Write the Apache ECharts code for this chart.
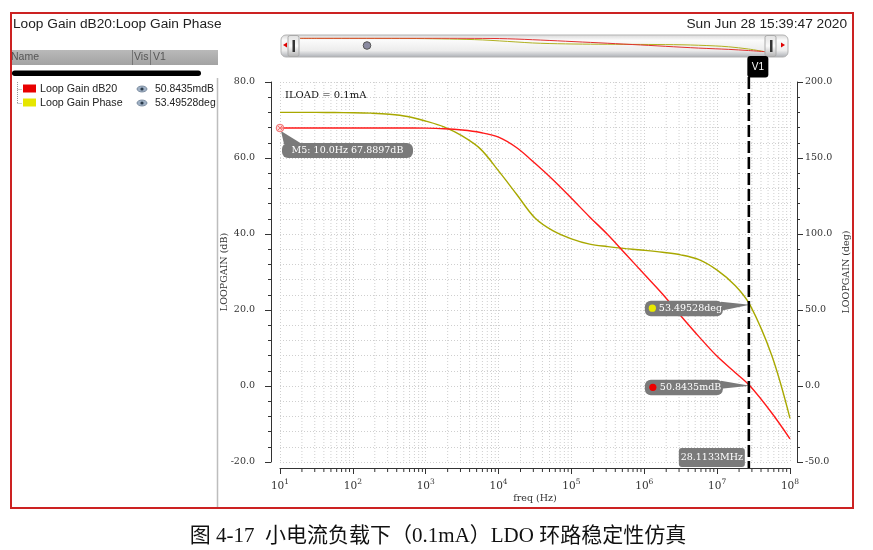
<!DOCTYPE html>
<html><head><meta charset="utf-8">
<script src="https://cdn.jsdelivr.net/npm/echarts@6/dist/echarts.min.js"></script>
<style>html,body{margin:0;padding:0;background:#fff}#c{width:873px;height:550px}</style>
</head><body><div id="c"></div>
<script>
// ---- data ----
const freqHz = [10, 17.78, 31.62, 56.23, 100, 177.8, 316.2, 562.3, 1000, 1778, 3162, 5623, 1e4, 1.778e4, 3.162e4, 5.623e4, 1e5, 1.778e5, 3.162e5, 5.623e5, 1e6, 1.778e6, 3.162e6, 5.623e6, 1e7, 1.778e7, 2.81133e7, 5.623e7, 1e8];
const gainDb = [67.8897, 67.8897, 67.8897, 67.8895, 67.889, 67.889, 67.888, 67.88, 67.85, 67.7, 67.35, 66.7, 65.5, 62.7, 58.6, 54.2, 49.4, 44.5, 39.8, 34.6, 29.4, 24.2, 18.5, 13.0, 7.8, 3.5, 0.0508435, -7.1, -13.9];
const phaseDeg = [180, 180, 180, 179.9, 179.8, 179.5, 178.8, 177.3, 174.3, 170.5, 164.5, 156, 141.5, 126, 110.5, 102, 96.8, 93.3, 91.7, 90.4, 89.3, 88, 86.3, 83.1, 76.2, 66, 53.49528, 20, -21.3];
const gainTicks = [-20, 0, 20, 40, 60, 80];
const phaseTicks = [-50, 0, 50, 100, 150, 200];
const markerM5 = {freq: 10, gain: 67.8897, text: 'M5: 10.0Hz 67.8897dB'};
const cursor = {freq: 2.81133e7, gain: 0.0508435, phase: 53.49528, freqText: '28.1133MHz', gainText: '50.8435mdB', phaseText: '53.49528deg', name: 'V1'};
const seriesNames = ['Loop Gain dB20', 'Loop Gain Phase'];
const titleText = 'Loop Gain dB20:Loop Gain Phase';
const dateText = 'Sun Jun 28 15:39:47 2020';
const annotText = 'ILOAD = 0.1mA';
const captionText = '图 4-17  小电流负载下（0.1mA）LDO 环路稳定性仿真';

// minor tick positions (2..9 within each decade)
const minorTickFreqs = [];
for (let e = 1; e < 8; e++) for (let m = 2; m <= 9; m++) minorTickFreqs.push([m * Math.pow(10, e), -20]);

const RED = '#ff1a1a', OLIVE = '#a8a800';
const SERIF = 'DejaVu Serif';
const SANS = 'Liberation Sans';
const gridLine = {color: '#cfcfcf', type: [1, 2], width: 1};
const axisCol = '#333';

const gainSeries = freqHz.map((f, i) => [f, gainDb[i]]);
const phaseSeries = freqHz.map((f, i) => [f, phaseDeg[i]]);

const chart = echarts.init(document.getElementById('c'));
const option = {
  animation: false,
  backgroundColor: '#fff',
  grid: [
    {left: 280, right: 83, top: 82, bottom: 88},
    {left: 300, width: 465, top: 38, height: 14}
  ],
  xAxis: [
    {type: 'log', logBase: 10, min: 10, max: 1e8, gridIndex: 0, offset: 6,
     axisLine: {show: true, onZero: false, lineStyle: {color: axisCol}},
     axisTick: {show: true, length: 6, lineStyle: {color: axisCol}},
     splitLine: {show: true, lineStyle: gridLine},
     axisLabel: {margin: 10, color: axisCol,
       formatter: v => '{b|10}{s|' + Math.round(Math.log10(v)) + '}',
       rich: {b: {fontFamily: SERIF, fontSize: 10.5, color: axisCol, verticalAlign: 'bottom'},
              s: {fontFamily: SERIF, fontSize: 7.5, color: axisCol, verticalAlign: 'bottom', padding: [0, 0, 6, 0]}}},
     name: 'freq (Hz)', nameLocation: 'middle', nameGap: 26, nameMoveOverlap: false,
     nameTextStyle: {fontFamily: SERIF, fontSize: 9.5, color: axisCol}},
    {type: 'log', logBase: 10, min: 10, max: 1e8, gridIndex: 1, show: false}
  ],
  yAxis: [
    {type: 'value', min: gainTicks[0], max: gainTicks[gainTicks.length - 1], interval: 20, gridIndex: 0, offset: 9,
     axisLine: {show: true, onZero: false, lineStyle: {color: axisCol}},
     axisTick: {show: true, length: 6, lineStyle: {color: axisCol}},
     minorTick: {show: true, splitNumber: 5, length: 3, lineStyle: {color: axisCol}},
     splitLine: {show: true, lineStyle: gridLine},
     minorSplitLine: {show: true, lineStyle: gridLine},
     axisLabel: {margin: 16, color: axisCol, fontFamily: SERIF, fontSize: 9.5, formatter: v => v.toFixed(1)},
     name: 'LOOPGAIN (dB)', nameLocation: 'middle', nameGap: 41, nameRotate: 90, nameMoveOverlap: false,
     nameTextStyle: {fontFamily: SERIF, fontSize: 9.5, color: axisCol}},
    {type: 'value', min: phaseTicks[0], max: phaseTicks[phaseTicks.length - 1], interval: 50, gridIndex: 0, offset: 7, position: 'right',
     axisLine: {show: true, onZero: false, lineStyle: {color: axisCol}},
     axisTick: {show: true, length: 6, lineStyle: {color: axisCol}},
     minorTick: {show: true, splitNumber: 5, length: 3, lineStyle: {color: axisCol}},
     splitLine: {show: false},
     axisLabel: {margin: 8, color: axisCol, fontFamily: SERIF, fontSize: 9.5, formatter: v => v.toFixed(1)},
     name: 'LOOPGAIN (deg)', nameLocation: 'middle', nameGap: 45, nameRotate: 90, nameMoveOverlap: false,
     nameTextStyle: {fontFamily: SERIF, fontSize: 9.5, color: axisCol}},
    {type: 'value', min: -16, max: 69, gridIndex: 1, show: false},
    {type: 'value', min: -25, max: 185, gridIndex: 1, show: false}
  ],
  series: [
    {type: 'custom', xAxisIndex: 0, yAxisIndex: 0, data: minorTickFreqs, silent: true, z: 1, clip: false,
     encode: {x: 0, y: 1},
     renderItem: (params, api) => {
       const f = api.value(0);
       const b = api.coord([f, gainTicks[0]]);
       const t = api.coord([f, gainTicks[gainTicks.length - 1]]);
       return {type: 'group', children: [
         {type: 'line', shape: {x1: b[0], y1: t[1], x2: b[0], y2: b[1]}, style: {stroke: '#cfcfcf', lineWidth: 1, lineDash: [1, 2]}},
         {type: 'line', shape: {x1: b[0], y1: b[1] + 6, x2: b[0], y2: b[1] + 10}, style: {stroke: axisCol, lineWidth: 1}}
       ]};
     }},
    {name: seriesNames[0], type: 'line', xAxisIndex: 0, yAxisIndex: 0, data: gainSeries, smooth: 0.35, showSymbol: false,
     lineStyle: {color: RED, width: 1.4}, itemStyle: {color: RED}, z: 5},
    {name: seriesNames[1], type: 'line', xAxisIndex: 0, yAxisIndex: 1, data: phaseSeries, smooth: 0.35, showSymbol: false,
     lineStyle: {color: OLIVE, width: 1.4}, itemStyle: {color: OLIVE}, z: 4},
    {type: 'line', xAxisIndex: 1, yAxisIndex: 2, data: gainSeries, smooth: 0.35, showSymbol: false, silent: true,
     lineStyle: {color: '#e03030', width: 1}, z: 20},
    {type: 'line', xAxisIndex: 1, yAxisIndex: 3, data: phaseSeries, smooth: 0.35, showSymbol: false, silent: true,
     lineStyle: {color: '#b0b020', width: 1}, z: 19}
  ]
};
chart.setOption(option);

// ---- annotations anchored through the library's coordinate conversion ----
const toPx = (si, x, y) => chart.convertToPixel({seriesIndex: si}, [x, y]);
const pM5 = toPx(1, markerM5.freq, markerM5.gain);
const pG = toPx(1, cursor.freq, cursor.gain);
const pP = toPx(2, cursor.freq, cursor.phase);
const pTop = toPx(1, cursor.freq, gainTicks[gainTicks.length - 1]);
const pBot = toPx(1, cursor.freq, gainTicks[0]);
const GRAY = '#7a7a7a';
const lblFont = {fontFamily: SERIF, fontSize: 9.5, fill: '#fff'};

function eye(x, y) {
  return [
    {type: 'ellipse', shape: {cx: x, cy: y, rx: 5, ry: 3}, style: {fill: '#9fb0c4', stroke: '#6d7f94', lineWidth: 0.8}},
    {type: 'circle', shape: {cx: x, cy: y, r: 1.6}, style: {fill: '#2a3a4a'}}
  ];
}

const g = [
  // frame
  {type: 'rect', shape: {x: 11, y: 13, width: 842, height: 495}, style: {fill: 'none', stroke: '#cc2222', lineWidth: 2}, z: 50},
  {type: 'text', x: 13, y: 24, style: {text: titleText, fontFamily: SANS, fontSize: 13.7, fill: '#222', textVerticalAlign: 'middle'}},
  {type: 'text', x: 847, y: 24, style: {text: dateText, fontFamily: SANS, fontSize: 13.7, fill: '#222', textAlign: 'right', textVerticalAlign: 'middle'}},
  // left panel
  {type: 'rect', shape: {x: 12, y: 50, width: 206, height: 15},
   style: {fill: new echarts.graphic.LinearGradient(0, 0, 0, 1, [{offset: 0, color: '#b9b9b9'}, {offset: 1, color: '#a3a3a3'}])}},
  {type: 'line', shape: {x1: 132.5, y1: 50, x2: 132.5, y2: 65}, style: {stroke: '#777', lineWidth: 1}},
  {type: 'line', shape: {x1: 150.5, y1: 50, x2: 150.5, y2: 65}, style: {stroke: '#777', lineWidth: 1}},
  {type: 'text', x: 11, y: 57.5, style: {text: 'Name', fontFamily: SANS, fontSize: 10.5, fill: '#555', textVerticalAlign: 'middle'}},
  {type: 'text', x: 134, y: 57.5, style: {text: 'Vis', fontFamily: SANS, fontSize: 10.5, fill: '#555', textVerticalAlign: 'middle'}},
  {type: 'text', x: 153, y: 57.5, style: {text: 'V1', fontFamily: SANS, fontSize: 10.5, fill: '#555', textVerticalAlign: 'middle'}},
  {type: 'rect', shape: {x: 12, y: 70.5, width: 189, height: 5.5, r: 2.7}, style: {fill: '#000'}},
  {type: 'line', shape: {x1: 217.5, y1: 78, x2: 217.5, y2: 507}, style: {stroke: '#bdbdbd', lineWidth: 1.5}},
  {type: 'line', shape: {x1: 17.5, y1: 82, x2: 17.5, y2: 103}, style: {stroke: '#999', lineWidth: 1, lineDash: [1, 1]}},
  {type: 'line', shape: {x1: 17.5, y1: 89.5, x2: 22, y2: 89.5}, style: {stroke: '#999', lineWidth: 1, lineDash: [1, 1]}},
  {type: 'line', shape: {x1: 17.5, y1: 103.5, x2: 22, y2: 103.5}, style: {stroke: '#999', lineWidth: 1, lineDash: [1, 1]}},
  {type: 'rect', shape: {x: 23, y: 84.5, width: 13, height: 8}, style: {fill: '#e80000'}},
  {type: 'rect', shape: {x: 23, y: 98.5, width: 13, height: 8}, style: {fill: '#e6e600'}},
  {type: 'text', x: 40, y: 89.5, style: {text: seriesNames[0], fontFamily: SANS, fontSize: 10.7, fill: '#222', textVerticalAlign: 'middle'}},
  {type: 'text', x: 40, y: 103.5, style: {text: seriesNames[1], fontFamily: SANS, fontSize: 10.7, fill: '#222', textVerticalAlign: 'middle'}},
  ...eye(142, 89), ...eye(142, 103),
  {type: 'text', x: 155, y: 89.5, style: {text: cursor.gainText, fontFamily: SANS, fontSize: 10.4, fill: '#222', textVerticalAlign: 'middle'}},
  {type: 'text', x: 155, y: 103.5, style: {text: cursor.phaseText, fontFamily: SANS, fontSize: 10.4, fill: '#222', textVerticalAlign: 'middle'}},
  // scroll bar
  {type: 'rect', shape: {x: 281, y: 35, width: 507, height: 22, r: 5}, z: -1,
   style: {fill: new echarts.graphic.LinearGradient(0, 0, 0, 1, [{offset: 0, color: '#d6d6d6'}, {offset: 0.25, color: '#fbfbfb'}, {offset: 0.7, color: '#ececec'}, {offset: 1, color: '#a9adb3'}]), stroke: '#b3b3b3', lineWidth: 1}},
  {type: 'rect', shape: {x: 288, y: 35.5, width: 11, height: 21, r: 2}, z: 30,
   style: {fill: new echarts.graphic.LinearGradient(0, 0, 0, 1, [{offset: 0, color: '#e0e0e0'}, {offset: 0.5, color: '#fafafa'}, {offset: 1, color: '#b0b0b0'}]), stroke: '#aaa'}},
  {type: 'rect', shape: {x: 292.5, y: 40, width: 2.5, height: 12}, style: {fill: '#333'}, z: 31},
  {type: 'rect', shape: {x: 765, y: 35.5, width: 11, height: 21, r: 2}, z: 30,
   style: {fill: new echarts.graphic.LinearGradient(0, 0, 0, 1, [{offset: 0, color: '#e0e0e0'}, {offset: 0.5, color: '#fafafa'}, {offset: 1, color: '#b0b0b0'}]), stroke: '#aaa'}},
  {type: 'rect', shape: {x: 770, y: 40, width: 2.5, height: 12}, style: {fill: '#333'}, z: 31},
  {type: 'polygon', shape: {points: [[283, 45], [287, 42.5], [287, 47.5]]}, style: {fill: '#e00000'}, z: 31},
  {type: 'polygon', shape: {points: [[785, 45], [781, 42.5], [781, 47.5]]}, style: {fill: '#e00000'}, z: 31},
  {type: 'circle', shape: {cx: 367, cy: 45.5, r: 3.8}, style: {fill: '#8a8aa0', stroke: '#555'}, z: 31},
  // text annotation
  {type: 'text', x: 285, y: 95, style: {text: annotText, fontFamily: SERIF, fontSize: 10, fill: '#111', textVerticalAlign: 'middle'}, z: 40},
  // M5 marker
  {type: 'polygon', shape: {points: [[pM5[0] + 1, pM5[1] + 3], [pM5[0] + 4, pM5[1] + 16], [pM5[0] + 22, pM5[1] + 16]]}, style: {fill: GRAY}, z: 40},
  {type: 'rect', shape: {x: pM5[0] + 2, y: pM5[1] + 15, width: 131, height: 15, r: 6}, style: {fill: GRAY}, z: 40},
  {type: 'text', x: pM5[0] + 67.5, y: pM5[1] + 22.5, style: Object.assign({text: markerM5.text, textAlign: 'center', textVerticalAlign: 'middle'}, lblFont), z: 41},
  {type: 'circle', shape: {cx: pM5[0], cy: pM5[1], r: 3.8}, style: {fill: 'rgba(255,190,190,0.6)', stroke: '#f07070', lineWidth: 1}, z: 42},
  {type: 'line', shape: {x1: pM5[0] - 2.5, y1: pM5[1] - 2.5, x2: pM5[0] + 2.5, y2: pM5[1] + 2.5}, style: {stroke: '#f07070'}, z: 42},
  {type: 'line', shape: {x1: pM5[0] - 2.5, y1: pM5[1] + 2.5, x2: pM5[0] + 2.5, y2: pM5[1] - 2.5}, style: {stroke: '#f07070'}, z: 42},
  // cursor line V1
  {type: 'line', shape: {x1: pG[0] - 1, y1: pTop[1] - 5, x2: pG[0] - 1, y2: pBot[1] + 6}, style: {stroke: '#000', lineWidth: 2.6, lineDash: [12, 4]}, z: 45},
  {type: 'rect', shape: {x: pG[0] - 2.5, y: 56, width: 21, height: 21.5, r: 3}, style: {fill: '#000'}, z: 46},
  {type: 'text', x: pG[0] + 8, y: 67.5, style: {text: cursor.name, fontFamily: SANS, fontSize: 10, fill: '#fff', textAlign: 'center', textVerticalAlign: 'middle'}, z: 47},
  // phase callout
  {type: 'polygon', shape: {points: [[pP[0] - 29, pP[1] - 3], [pP[0] - 29, pP[1] + 6], [pP[0], pP[1]]]}, style: {fill: GRAY}, z: 40},
  {type: 'rect', shape: {x: pP[0] - 105, y: pP[1] - 4, width: 78, height: 15.5, r: 6}, style: {fill: GRAY}, z: 40},
  {type: 'circle', shape: {cx: pP[0] - 97.5, cy: pP[1] + 3.5, r: 3.6}, style: {fill: '#eaea00'}, z: 41},
  {type: 'text', x: pP[0] - 91, y: pP[1] + 4, style: Object.assign({text: cursor.phaseText, textVerticalAlign: 'middle'}, lblFont), z: 41},
  // gain callout
  {type: 'polygon', shape: {points: [[pG[0] - 29, pG[1] - 5], [pG[0] - 29, pG[1] + 3], [pG[0], pG[1]]]}, style: {fill: GRAY}, z: 40},
  {type: 'rect', shape: {x: pG[0] - 105, y: pG[1] - 6, width: 78, height: 15.5, r: 6}, style: {fill: GRAY}, z: 40},
  {type: 'circle', shape: {cx: pG[0] - 97, cy: pG[1] + 1.5, r: 3.6}, style: {fill: '#ee0000'}, z: 41},
  {type: 'text', x: pG[0] - 90, y: pG[1] + 2, style: Object.assign({text: cursor.gainText, textVerticalAlign: 'middle'}, lblFont), z: 41},
  // frequency readout
  {type: 'rect', shape: {x: pBot[0] - 71, y: pBot[1] - 14, width: 66, height: 19, r: 3}, style: {fill: GRAY}, z: 40},
  {type: 'text', x: pBot[0] - 38, y: pBot[1] - 4, style: Object.assign({text: cursor.freqText, textAlign: 'center', textVerticalAlign: 'middle'}, lblFont), z: 41},
  // caption
  {type: 'text', x: 438, y: 536, style: {text: captionText, fontFamily: "'Liberation Serif','Noto Sans CJK SC'", fontSize: 21, fill: '#111', textAlign: 'center', textVerticalAlign: 'middle'}}
];
chart.setOption({graphic: {elements: g}});
</script></body></html>
